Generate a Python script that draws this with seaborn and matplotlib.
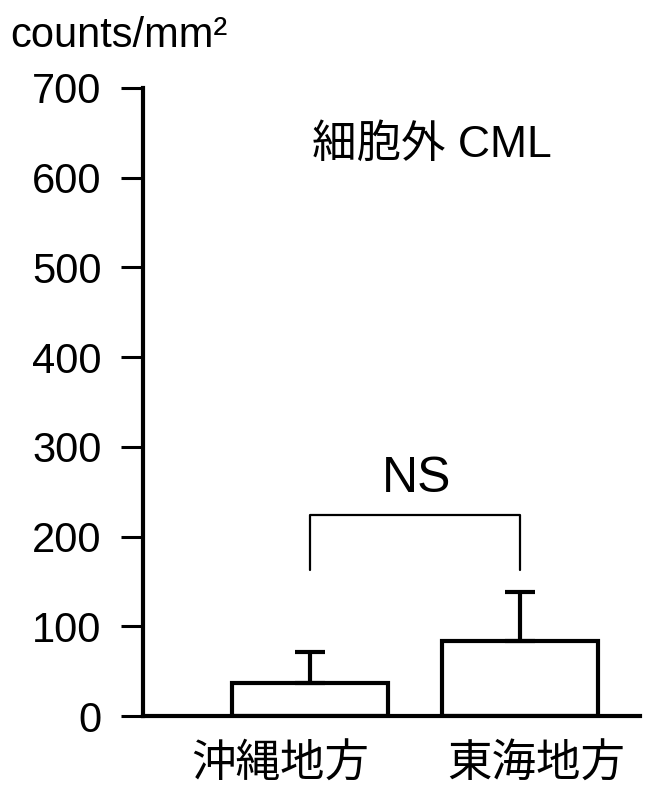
import matplotlib
matplotlib.use('Agg')
import matplotlib.pyplot as plt
import pandas as pd
import seaborn as sns

# -----------data---------------
regions = ['沖縄地方', '東海地方']
counts = [37, 84]
sd_upper = [34, 54]
y_ticks = [0, 100, 200, 300, 400, 500, 600, 700]
bracket_top = 224
bracket_low = 163
ns_y = 264
title_y = 637

df = pd.DataFrame({'region': regions, 'count': counts})

sns.set_style('ticks')
plt.rcParams['font.family'] = ['Liberation Sans', 'Noto Sans CJK JP', 'DejaVu Sans']
plt.rcParams['text.color'] = 'black'
plt.rcParams['xtick.color'] = 'black'
plt.rcParams['ytick.color'] = 'black'
plt.rcParams['xtick.labelcolor'] = 'black'
plt.rcParams['ytick.labelcolor'] = 'black'

fig = plt.figure(figsize=(6.45, 7.87), dpi=100)
ax = fig.add_axes([0.2217, 0.0902, 0.7703, 0.798])

sns.barplot(data=df, x='region', y='count', color='white', saturation=1,
            edgecolor='black', linewidth=3, width=0.745, errorbar=None, ax=ax)

# upper error bars only
ax.errorbar([0, 1], counts, yerr=[[0, 0], sd_upper], fmt='none', ecolor='black',
            elinewidth=3, capsize=11, capthick=3, zorder=1)

# significance bracket
ax.plot([0, 0, 1, 1], [bracket_low, bracket_top, bracket_top, bracket_low],
        color='black', lw=1.6, clip_on=False)
ax.text(0.51, ns_y, 'NS', ha='center', va='center', fontsize=36,
        family=['Liberation Sans'])
ax.text(0.58, title_y, '細胞外 CML', ha='center', va='center', fontsize=32,
        family=['Liberation Sans', 'Noto Sans CJK JP'])

ax.set_xlim(-0.795, 1.571)
ax.set_ylim(0, 700)
ax.set_yticks(y_ticks)
ax.set_yticklabels([str(v) for v in y_ticks], fontsize=30, family=['Liberation Sans'])
ax.tick_params(axis='y', direction='out', length=16, width=2.2, pad=14, color='black')

ax.set_xticks([-0.14, 1.076])
ax.set_xticklabels(regions, fontsize=32, family=['Noto Sans CJK JP'])
ax.tick_params(axis='x', length=0, pad=18)

ax.set_xlabel('')
ax.set_ylabel('')
sns.despine(ax=ax)
ax.spines['left'].set_linewidth(3)
ax.spines['bottom'].set_linewidth(3)
ax.spines['left'].set_color('black')
ax.spines['bottom'].set_color('black')

fig.text(10 / 645, 1 - 47 / 787, 'counts/mm²', fontsize=30, va='baseline', ha='left',
         family=['Liberation Sans'])

fig.savefig('out.png', dpi=100, facecolor='white')
